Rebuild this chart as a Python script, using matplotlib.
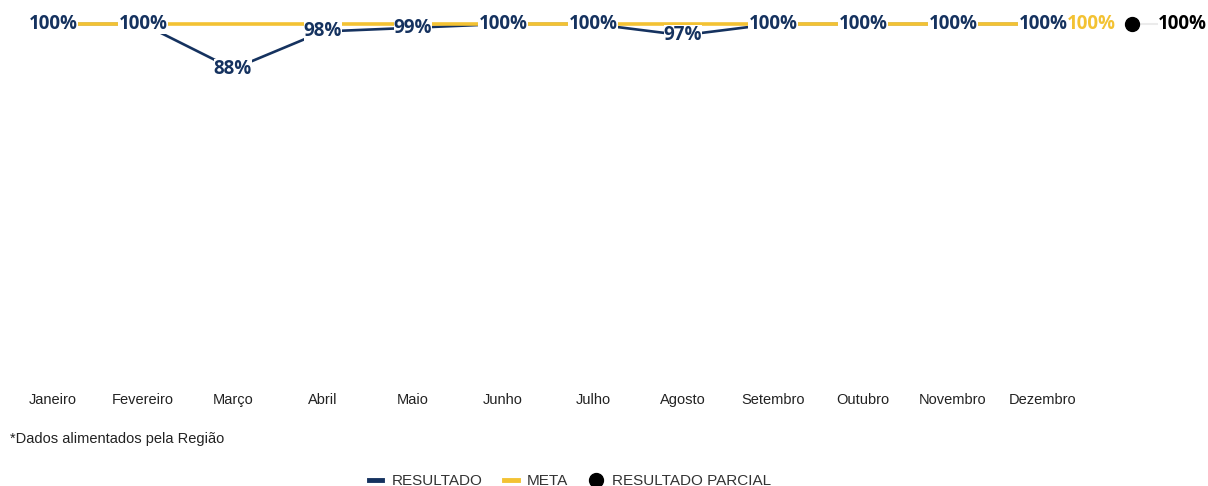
import matplotlib

matplotlib.use("Agg")
import matplotlib.pyplot as plt  # noqa: E402
from matplotlib.lines import Line2D  # noqa: E402

months = ["Janeiro", "Fevereiro", "Março", "Abril", "Maio", "Junho",
          "Julho", "Agosto", "Setembro", "Outubro", "Novembro", "Dezembro"]
resultado = [100, 100, 88, 98, 99, 100, 100, 97, 100, 100, 100, 100]
meta = [100] * 12
parcial = 100

NAVY = "#15325f"
GOLD = "#f3c233"
LABEL_FONT = "Open Sans"
TEXT_FONT = "Liberation Sans"

fig = plt.figure(figsize=(12.08, 4.86), dpi=100)
ax = fig.add_axes([8 / 1208, 99 / 486, 1080 / 1208, 375 / 486])

x = list(range(len(months)))
ax.plot(x, resultado, color=NAVY, lw=1.9, zorder=2)
ax.plot(x, meta, color=GOLD, lw=2.6, zorder=3)

for xi, v in zip(x, resultado):
    ax.text(xi, v, f"{v}%", ha="center", va="center", fontsize=13.5,
            fontweight="bold", color=NAVY, family=LABEL_FONT, zorder=5,
            bbox=dict(facecolor="white", edgecolor="none", pad=0.2))

# meta end label and partial result, outside the plotting area
ax.text(x[-1] + 0.26, meta[-1], f"{meta[-1]}%", ha="left", va="center",
        fontsize=13.5, fontweight="bold", color=GOLD, family=LABEL_FONT,
        clip_on=False, zorder=5)
ax.plot([x[-1] + 0.99, x[-1] + 1.3], [parcial, parcial], color="#ebebeb",
        lw=1.5, clip_on=False, zorder=4)
ax.plot([x[-1] + 0.99], [parcial], "o", color="black", ms=10,
        clip_on=False, zorder=5)
ax.text(x[-1] + 1.28, parcial, f"{parcial}%", ha="left", va="center",
        fontsize=13.5, fontweight="bold", color="black", family=LABEL_FONT,
        clip_on=False, zorder=6,
        bbox=dict(facecolor="white", edgecolor="none", pad=0.2))

ax.set_xlim(-0.5, len(months) - 0.5)
ax.set_ylim(3.2, 103.2)
ax.set_xticks(x)
ax.set_xticklabels(months, fontsize=10.5, family=TEXT_FONT, color="#222222")
ax.tick_params(axis="x", length=0, pad=4)
ax.set_yticks([])
for s in ax.spines.values():
    s.set_visible(False)

fig.text(10 / 1208, 1 - 439 / 486, "*Dados alimentados pela Região",
         fontsize=10.5, family=TEXT_FONT, color="#222222", va="center")

handles = [
    Line2D([], [], color=NAVY, lw=3.5),
    Line2D([], [], color=GOLD, lw=3.5),
    Line2D([], [], color="black", lw=0, marker="o", ms=10),
]
fig.legend(handles, ["RESULTADO", "META", "RESULTADO PARCIAL"],
           loc="center", bbox_to_anchor=(570 / 1208, 5 / 486), ncol=3,
           frameon=False, handlelength=0.9, handletextpad=0.6,
           columnspacing=1.4, prop={"family": TEXT_FONT, "size": 11},
           labelcolor="#333333")

fig.savefig("out.png", dpi=100)
